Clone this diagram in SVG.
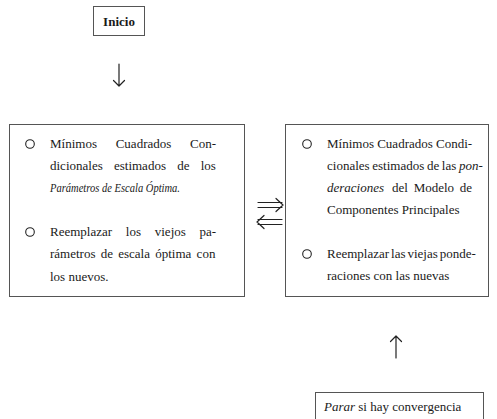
<svg xmlns="http://www.w3.org/2000/svg" width="497" height="419" viewBox="0 0 497 419">
<style>
.box{fill:#fff;stroke:#555;stroke-width:1}
.t{font-family:"Liberation Serif","Times New Roman",serif;font-size:13px;fill:#1a1a1a}
.i{font-style:italic}
.b{font-weight:bold}
.bul{fill:none;stroke:#222;stroke-width:1.1}
.ar{fill:none;stroke:#222;stroke-width:1.2;stroke-linecap:round;stroke-linejoin:round}
</style>
<rect width="497" height="419" fill="#fff"/>
<g id="inicio">
<rect class="box" x="93.5" y="6.5" width="51" height="29"/>
<text class="t b" x="119" y="25.5" text-anchor="middle" font-size="13.5">Inicio</text>
</g>
<g id="left">
<rect class="box" x="9.5" y="124.5" width="235" height="172"/>
<circle class="bul" cx="30" cy="144" r="4.3"/>
<text class="t" x="50" y="148" word-spacing="15.5">Mínimos Cuadrados Con-</text>
<text class="t" x="50" y="170" word-spacing="8">dicionales estimados de los</text>
<text class="t i" x="50" y="192" textLength="130" lengthAdjust="spacingAndGlyphs">Parámetros de Escala Óptima.</text>
<circle class="bul" cx="30" cy="232" r="4.3"/>
<text class="t" x="50" y="236" word-spacing="10.5">Reemplazar los viejos pa-</text>
<text class="t" x="50" y="258" word-spacing="2">rámetros de escala óptima con</text>
<text class="t" x="50" y="281">los nuevos.</text>
</g>
<g id="right">
<rect class="box" x="285.5" y="124.5" width="203" height="172"/>
<circle class="bul" cx="307" cy="144" r="4.3"/>
<text class="t" x="327" y="148">Mínimos Cuadrados Condi-</text>
<text class="t" x="327" y="170" font-size="12" word-spacing="-0.6">cionales estimados de las <tspan class="i" font-size="13">pon-</tspan></text>
<text class="t i" x="327" y="192">deraciones</text>
<text class="t" x="392" y="192" word-spacing="2.5">del Modelo de</text>
<text class="t" x="327" y="214">Componentes Principales</text>
<circle class="bul" cx="307" cy="254" r="4.3"/>
<text class="t" x="327" y="258" word-spacing="-1.3">Reemplazar las viejas ponde-</text>
<text class="t" x="327" y="280">raciones con las nuevas</text>
</g>
<g id="parar">
<rect class="box" x="315.5" y="392.5" width="168" height="40"/>
<text class="t" x="324" y="411" font-size="14"><tspan class="i">Parar</tspan> si hay convergencia</text>
</g>
<g id="connectors">
<path class="ar" d="M119 64V86M113.5 80.5L119 86L124.5 80.5"/>
<path class="ar" d="M258 202.5H282M258 207.5H282M276 198.5L283 205L276 211.5"/>
<path class="ar" d="M258 219.5H282M258 224.5H282M264 215.5L257 222L264 228.5"/>
<path class="ar" d="M396 336V358M390.5 341.5L396 336L401.5 341.5"/>
</g>
</svg>
